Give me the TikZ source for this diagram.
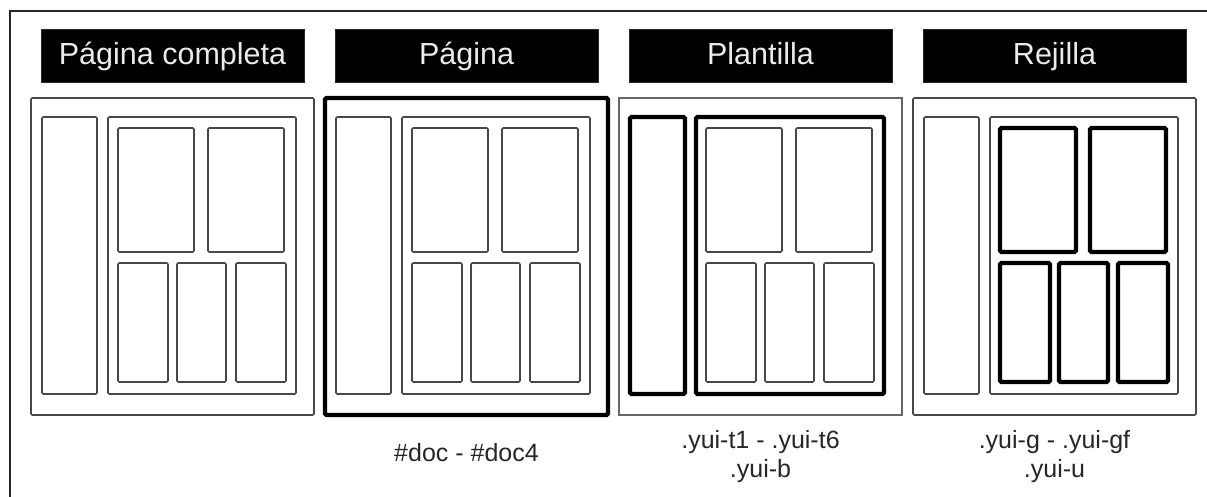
\documentclass[tikz,border=0pt]{standalone}
\usepackage{fontspec}
\setmainfont{Liberation Sans}
\begin{document}
\begin{tikzpicture}[x=1pt,y=-1pt]
\tikzset{
 linethin/.style={draw=black!72, line width=1.6pt, rounded corners=1.2pt},
 linehair/.style={draw=black!60, line width=1.2pt},
 linebold/.style={draw=black, line width=4.3pt, rounded corners=1.5pt},
 titlebox/.style={fill=black, draw=black!85, line width=0.8pt},
 titletext/.style={text=white!92!black, font=\fontsize{30.5}{35}\selectfont, anchor=base, inner sep=0pt},
 labeltext/.style={font=\fontsize{25}{30}\selectfont, anchor=base, inner sep=0pt, text=black!85},
 framestyle/.style={draw=black!85, line width=1.5pt}
}
\newcommand\drawpanel[5]{%
 \begin{scope}[xshift=#1pt]
  \draw[#2] (0,98) rectangle (283,415);
  \draw[#3] (11,117) rectangle (66,394);
  \draw[#4] (77,117) rectangle (265,394);
  \foreach \a/\b in {87/163,177/253} \draw[#5] (\a,128) rectangle (\b,252);
  \foreach \a/\b in {87/137,146/195,205/255} \draw[#5] (\a,263) rectangle (\b,382);
  \draw[titlebox] (10,29) rectangle (273,82);
 \end{scope}}
\useasboundingbox (0,0) rectangle (1207,497);
\fill[white] (0,0) rectangle (1207,497);
\draw[framestyle] (1207,11) -- (10,11) -- (10,497);
\drawpanel{31}{linethin}{linethin}{linethin}{linethin}
\drawpanel{325}{linebold}{linethin}{linethin}{linethin}
\drawpanel{619}{linehair}{linebold}{linebold}{linethin}
\drawpanel{913}{linethin}{linethin}{linethin}{linebold}
\node[titletext] (t1) at (172.5,65) {Página completa};
\node[titletext] (t2) at (466.5,65) {Página};
\node[titletext] (t3) at (760.5,65) {Plantilla};
\node[titletext] (t4) at (1054.5,65) {Rejilla};
\node[labeltext] (l2) at (466.5,461) {\#doc - \#doc4};
\node[labeltext] (l3a) at (760.5,448) {.yui-t1 - .yui-t6};
\node[labeltext] (l3b) at (760.5,477) {.yui-b};
\node[labeltext] (l4a) at (1054.5,448) {.yui-g - .yui-gf};
\node[labeltext] (l4b) at (1054.5,477) {.yui-u};
\end{tikzpicture}
\end{document}
